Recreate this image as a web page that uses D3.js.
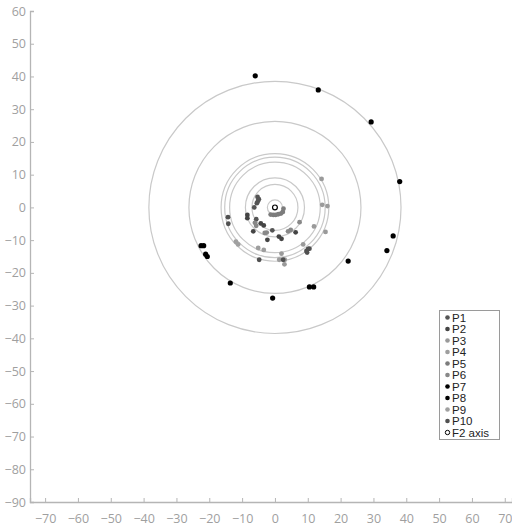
<!DOCTYPE html>
<html>
<head>
<meta charset="utf-8">
<script src="https://cdn.jsdelivr.net/npm/d3@7"></script>
<style>
  body { margin: 0; background: #fff; }
  .tick text { font-family: "Open Sans", sans-serif; font-size: 12.5px; fill: #9f9f9f; }
  .legend text { font-family: "Liberation Sans", Arial, sans-serif; font-size: 11.5px; fill: #222; }
</style>
</head>
<body>
<div id="chart"></div>
<script>
const W = 512, H = 526;

// participants and their colours
const names = ["P1", "P2", "P3", "P4", "P5", "P6", "P7", "P8", "P9", "P10"];
const colors = ["#555", "#444", "#9a9a9a", "#9e9e9e", "#7c7c7c", "#888", "#000", "#000", "#a0a0a0", "#505050"];

// points per participant (x, y)
const p1 = [[-5.3, 3.2], [-4.9, 2.5], [-5.2, 1.9], [-5.5, 1.3], [-6.3, 0], [-5.7, -3.6], [-0.8, -7.0]];
const p2 = [[-4.3, -4.9], [-3.4, -5.5], [-8.4, -2.3], [-8.4, -3.3], [-6.6, -7.3], [-2.3, -9.9], [1.2, -8.9], [2.0, -9.6], [6.3, -7.6]];
const p3 = [[14.2, 8.7], [14.4, 0.8], [16.0, 0.4], [11.9, -5.8], [15.4, -7.5], [8.6, -11.3], [2.0, -14.1], [2.9, -17.4]];
const p4 = [[-5.1, -12.4], [-3.4, -13.0], [1.3, -16.0], [3.0, -16.0]];
const p5 = [[-1.3, -2.2], [-0.5, -2.3], [0.2, -2.3], [1.0, -2.1], [1.8, -1.9], [2.4, -1.4], [2.6, -0.4]];
const p6 = [[-6.1, -4.7], [-5.7, -5.6], [-3.1, -7.8], [-2.5, -7.7], [4.0, -7.3], [4.8, -6.9], [7.5, -4.5]];
const p7 = [[-6.0, 40.2], [13.2, 35.9], [29.3, 26.1], [38.0, 7.9], [36.0, -8.7], [34.1, -13.2]];
const p8 = [[22.3, -16.4], [10.5, -24.3], [11.8, -24.3], [-0.7, -27.7], [-13.6, -23.1], [-22.5, -11.7], [-21.7, -11.7], [-21.1, -14.3], [-20.6, -15.0]];
const p9 = [[-11.9, -10.5], [-11.2, -11.3]];
const p10 = [[-14.3, -3.0], [-14.2, -5.0], [-4.8, -16.0], [2.5, -16.0], [9.6, -13.3], [10.1, -12.7], [10.5, -12.6], [9.8, -13.8]];
const series = [p1, p2, p3, p4, p5, p6, p7, p8, p9, p10];

// mean-distance rings
const ringRadii = [2.3, 7.0, 9.0, 13.8, 15.3, 16.4, 26.2, 38.4];

const xTicks = d3.range(-70, 71, 10);
const yTicks = d3.range(-90, 61, 10);

const svg = d3.select("#chart").append("svg")
    .attr("width", W)
    .attr("height", H);

const x = d3.scaleLinear().domain([-74.6, 72.2]).range([30, 512]);
const y = d3.scaleLinear().domain([-90, 60]).range([502, 11]);

// axes
const xAxis = svg.append("g")
    .attr("transform", `translate(0,${y(-90)})`)
    .call(d3.axisTop(x).tickValues(xTicks).tickSize(4).tickFormat(d3.format("d")));
xAxis.selectAll(".tick text").attr("y", 17).attr("dy", "0.35em");

const yAxis = svg.append("g")
    .attr("transform", `translate(${x(-74.6)},0)`)
    .call(d3.axisRight(y).tickValues(yTicks).tickSize(4).tickFormat(d3.format("d")));
yAxis.selectAll(".tick text").attr("x", -4).attr("text-anchor", "end");

svg.selectAll(".domain").attr("stroke", "#b5b5b5").attr("stroke-width", 1.3);
svg.selectAll(".tick line").attr("stroke", "#b5b5b5");

// rings
svg.append("g").selectAll("circle")
    .data(ringRadii)
    .join("circle")
    .attr("cx", x(0))
    .attr("cy", y(0))
    .attr("r", d => x(d) - x(0))
    .attr("fill", "none")
    .attr("stroke", "#c9c9c9")
    .attr("stroke-width", 1.2);

// points
series.forEach((pts, i) => {
    svg.append("g").selectAll("circle")
        .data(pts)
        .join("circle")
        .attr("cx", d => x(d[0]))
        .attr("cy", d => y(d[1]))
        .attr("r", i === 6 || i === 7 ? 2.6 : 2.4)
        .attr("fill", colors[i]);
});

// F2 axis marker
svg.append("circle")
    .attr("cx", x(0))
    .attr("cy", y(0))
    .attr("r", 2.4)
    .attr("fill", "#fff")
    .attr("stroke", "#000")
    .attr("stroke-width", 1.2);

// legend
const legend = svg.append("g").attr("class", "legend");
legend.append("rect")
    .attr("x", 439.5).attr("y", 310.5)
    .attr("width", 60).attr("height", 129)
    .attr("fill", "#fff")
    .attr("stroke", "#9a9a9a");

const step = 11.5;
names.forEach((n, i) => {
    const cy = 317.5 + i * step;
    legend.append("circle").attr("cx", 447.5).attr("cy", cy).attr("r", 2.3).attr("fill", colors[i]);
    legend.append("text").attr("x", 452).attr("y", cy).attr("dy", "0.36em").text(n);
});
const fy = 317.5 + 10 * step;
legend.append("circle").attr("cx", 447.5).attr("cy", fy).attr("r", 2.2)
    .attr("fill", "#fff").attr("stroke", "#000").attr("stroke-width", 1);
legend.append("text").attr("x", 452).attr("y", fy).attr("dy", "0.36em").text("F2 axis");
</script>
</body>
</html>
